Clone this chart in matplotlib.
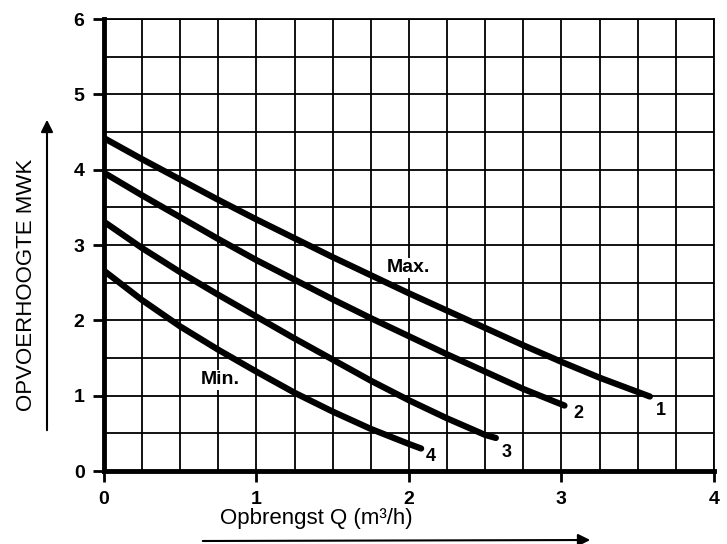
import numpy as np
import matplotlib.pyplot as plt

plt.rcParams['font.family'] = 'Liberation Sans'

# pump curves (Q in m3/h, head in m)
q1 = [0, 0.25, 0.5, 0.75, 1.0, 1.25, 1.5, 1.75, 2.0, 2.25, 2.5, 2.75, 3.0, 3.25, 3.58]
h1 = [4.42, 4.14, 3.87, 3.60, 3.34, 3.09, 2.84, 2.60, 2.36, 2.13, 1.90, 1.67, 1.45, 1.24, 0.99]

q2 = [0, 0.25, 0.5, 0.75, 1.0, 1.25, 1.5, 1.75, 2.0, 2.25, 2.5, 2.75, 3.02]
h2 = [3.96, 3.66, 3.37, 3.08, 2.80, 2.54, 2.28, 2.03, 1.79, 1.55, 1.32, 1.09, 0.87]

q3 = [0, 0.25, 0.5, 0.75, 1.0, 1.25, 1.5, 1.75, 2.0, 2.25, 2.5, 2.57]
h3 = [3.31, 2.96, 2.64, 2.34, 2.05, 1.76, 1.48, 1.20, 0.94, 0.70, 0.48, 0.44]

q4 = [0, 0.25, 0.5, 0.75, 1.0, 1.25, 1.5, 1.75, 2.0, 2.08]
h4 = [2.66, 2.27, 1.92, 1.61, 1.32, 1.04, 0.79, 0.56, 0.36, 0.30]

curve_labels = ['1', '2', '3', '4']
label_pos = [(3.65, 0.81), (3.11, 0.77), (2.64, 0.25), (2.14, 0.19)]

fig = plt.figure(figsize=(7.27, 5.44), dpi=100)
ax = fig.add_axes([0.143, 0.134, 0.839, 0.831])

for q, h in [(q1, h1), (q2, h2), (q3, h3), (q4, h4)]:
    ax.plot(q, h, color='black', linewidth=4.5, solid_capstyle='round',
            solid_joinstyle='round', zorder=3)

for lab, (x, y) in zip(curve_labels, label_pos):
    ax.text(x, y, lab, fontsize=13, fontweight='bold', ha='center', va='center')

ax.text(2.0, 2.70, 'Max.', fontsize=14, fontweight='bold', ha='center', va='center',
        bbox=dict(facecolor='white', edgecolor='none', pad=1))
ax.text(0.76, 1.21, 'Min.', fontsize=14, fontweight='bold', ha='center', va='center',
        bbox=dict(facecolor='white', edgecolor='none', pad=1))

ax.set_xlim(0, 4)
ax.set_ylim(0, 6)
ax.set_xticks([0, 1, 2, 3, 4])
ax.set_yticks([0, 1, 2, 3, 4, 5, 6])
ax.set_xticks(np.arange(0, 4.01, 0.25), minor=True)
ax.set_yticks(np.arange(0, 6.01, 0.5), minor=True)
ax.grid(which='both', color='black', linewidth=1.3)
ax.tick_params(which='minor', length=0)
ax.tick_params(which='major', length=8, width=2, labelsize=14, pad=6)
for t in ax.get_xticklabels() + ax.get_yticklabels():
    t.set_fontweight('bold')

ax.spines['left'].set_linewidth(3.5)
ax.spines['bottom'].set_linewidth(3.5)
ax.spines['top'].set_linewidth(1.3)
ax.spines['right'].set_linewidth(1.3)

fig.text(0.435, 0.047, 'Opbrengst Q (m³/h)', fontsize=16, ha='center', va='center')
fig.text(0.037, 0.476, 'OPVOERHOOGTE MWK', fontsize=16, rotation=90, ha='center', va='center')

# arrows next to the axis titles
fig.add_artist(plt.matplotlib.patches.FancyArrowPatch(
    (200 / 727, 1 - 541 / 544), (593 / 727, 1 - 540 / 544), transform=fig.transFigure,
    arrowstyle='-|>', mutation_scale=18, color='black', linewidth=1.5))
fig.add_artist(plt.matplotlib.patches.FancyArrowPatch(
    (47 / 727, 1 - 433 / 544), (47 / 727, 1 - 117 / 544), transform=fig.transFigure,
    arrowstyle='-|>', mutation_scale=18, color='black', linewidth=1.5))

plt.savefig('out.png', dpi=100)
